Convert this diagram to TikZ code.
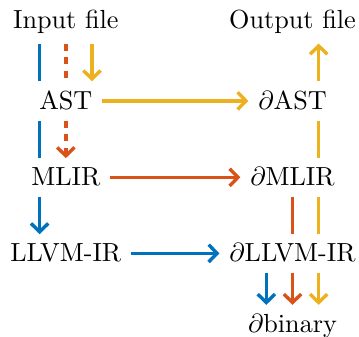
\documentclass[tikz,border=0pt]{standalone}
\usetikzlibrary{arrows.meta}
\definecolor{cblue}{HTML}{0072BD}
\definecolor{corange}{HTML}{D95319}
\definecolor{cyellow}{HTML}{EDB120}
\begin{document}
\begin{tikzpicture}[x=0.382pt,y=-0.382pt,
  lbl/.style={anchor=base,inner sep=3.6pt,font=\normalsize},
  conn/.style={line width=1.3pt},
  tip/.style={-{Straight Barb[length=3.2pt,width=6.6pt]}},
  dsh/.style={dash pattern=on 2.7pt off 2.6pt},
  bl/.style={conn,cblue},
  or/.style={conn,corange},
  ye/.style={conn,cyellow}]
\useasboundingbox (0,0) rectangle (359,337);
\node[lbl] (in)    at (65.8,28.5) {Input file};
\node[lbl] (out)   at (292.5,28.5) {Output file};
\node[lbl] (ast)   at (65.8,110) {AST};
\node[lbl] (dast)  at (292.5,110) {$\partial$AST};
\node[lbl] (mlir)  at (65.8,186) {MLIR};
\node[lbl] (dmlir) at (292.5,186) {$\partial$MLIR};
\node[lbl] (llvm)  at (65.8,262) {LLVM-IR};
\node[lbl] (dllvm) at (292.5,262) {$\partial$LLVM-IR};
\node[lbl] (dbin)  at (292.5,333) {$\partial$binary};
% left column
\draw[bl] ([xshift=-10pt]in.south) -- ([xshift=-10pt]ast.north);
\draw[or,dsh] (in.south) -- (ast.north);
\draw[ye,tip] ([xshift=10pt]in.south) -- ([xshift=10pt]ast.north);
\draw[bl] ([xshift=-10pt]ast.south) -- ([xshift=-10pt]mlir.north);
\draw[or,dsh,tip] (ast.south) -- (mlir.north);
\draw[bl,tip] ([xshift=-10pt]mlir.south) -- ([xshift=-10pt]llvm.north);
% horizontal
\draw[ye,tip] (ast.east) -- (ast.east -| dast.west);
\draw[or,tip] (mlir.east) -- (mlir.east -| dmlir.west);
\draw[bl,tip] (llvm.east) -- (llvm.east -| dllvm.west);
% right column
\draw[ye,tip] ([xshift=10pt]dast.north) -- ([xshift=10pt]out.south);
\draw[ye] ([xshift=10pt]dast.south) -- ([xshift=10pt]dmlir.north);
\draw[or] (dmlir.south) -- (dllvm.north);
\draw[ye] ([xshift=10pt]dmlir.south) -- ([xshift=10pt]dllvm.north);
\draw[bl,tip] ([xshift=-10pt]dllvm.south) -- ([xshift=-10pt]dbin.north);
\draw[or,tip] (dllvm.south) -- (dbin.north);
\draw[ye,tip] ([xshift=10pt]dllvm.south) -- ([xshift=10pt]dbin.north);
\end{tikzpicture}
\end{document}
